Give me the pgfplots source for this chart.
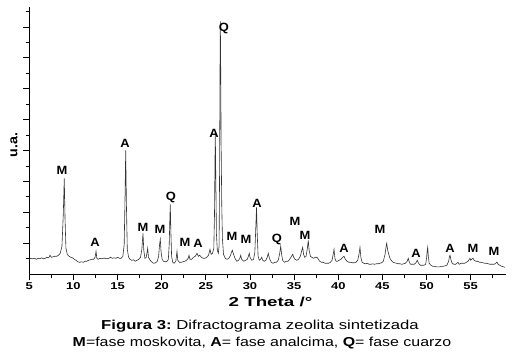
\documentclass[border=0pt]{standalone}
\usepackage{pgfplots}
\pgfplotsset{compat=1.18}
\usepackage{fontspec}
\setmainfont{Liberation Sans}
\begin{document}
\begin{tikzpicture}
\useasboundingbox (0,0) rectangle (514bp,361bp);
\begin{axis}[
  at={(29.3bp,86.7bp)}, anchor=south west,
  scale only axis, width=476.7bp, height=267.3bp,
  xmin=5, xmax=59, ymin=0, ymax=267.3,
  axis x line*=bottom, axis y line*=left,
  axis line style={-, line width=0.9pt, black},
  tick style={line width=0.9pt, black},
  tick align=outside,
  major tick length=6bp, minor tick length=3.3bp,
  xtick={5,10,...,55}, minor xtick={7.5,12.5,...,57.5},
  ytick={31,61.9,92.8,123.7,154.6,185.5,216.4,247.3},
  minor ytick={15.55,46.45,77.35,108.25,139.15,170.05,200.95,231.85,262.75},
  yticklabels={},
  /pgf/number format/assume math mode=true,
  xticklabel style={font=\bfseries\fontsize{10}{11}\selectfont, xscale=1.3, inner sep=1pt, yshift=-1bp},
  clip=false,
]
\addplot[black!80, line width=0.6pt] coordinates {
(5.0,15) (5.2,16) (5.4,15.5) (5.6,16) (5.8,15) (6.0,16) (6.2,15.5) (6.4,16.5) (6.6,15.5) (6.8,16)
(7.0,17) (7.2,16.5) (7.35,19) (7.5,17) (7.7,17.5) (7.9,18) (8.1,18) (8.3,19) (8.5,21) (8.7,28)
(8.85,60) (8.96,96) (9.05,55) (9.15,26) (9.3,20) (9.5,18) (9.7,17) (9.9,16.5) (10.1,15) (10.3,14)
(10.5,12.5) (10.7,12) (10.9,12.5) (11.1,12) (11.3,13) (11.5,13) (11.7,14) (11.9,14.5) (12.1,15) (12.3,15)
(12.45,17) (12.56,23) (12.65,16) (12.8,15) (13.0,16) (13.2,15.5) (13.4,16) (13.6,16) (13.8,15.5) (14.0,16)
(14.2,17) (14.4,16) (14.6,16.5) (14.8,16) (15.0,17) (15.2,16) (15.4,16) (15.6,18) (15.75,30) (15.85,80)
(15.92,124) (16.0,70) (16.1,25) (16.25,17) (16.4,15) (16.6,14) (16.8,14.5) (17.0,13) (17.2,14) (17.4,15)
(17.6,17) (17.75,25) (17.88,41) (17.97,24) (18.1,16) (18.25,17) (18.41,26) (18.5,17) (18.7,14) (18.9,12)
(19.1,11) (19.3,11.5) (19.5,13) (19.65,18) (19.76,30) (19.84,35) (19.93,22) (20.05,15) (20.2,13) (20.4,12.5)
(20.6,13) (20.75,15) (20.85,30) (20.92,55) (20.97,70) (21.03,45) (21.12,18) (21.25,12) (21.4,11) (21.6,13)
(21.73,23) (21.82,14) (22.0,12) (22.2,12) (22.4,12.5) (22.6,13) (22.8,14) (23.0,16) (23.09,19) (23.2,15)
(23.4,15) (23.6,17) (23.8,18) (24.0,21) (24.15,18) (24.3,19) (24.5,17) (24.7,16) (24.9,16) (25.1,17)
(25.3,19) (25.47,25) (25.6,20) (25.75,21) (25.9,26) (25.98,60) (26.03,110) (26.07,142) (26.12,100) (26.2,40)
(26.3,24) (26.41,21) (26.5,28) (26.56,110) (26.6,200) (26.64,253) (26.68,210) (26.73,130) (26.8,70) (26.88,35)
(27.0,20) (27.2,16) (27.4,15) (27.6,16) (27.8,19) (27.9,22) (28.0,24) (28.1,21) (28.3,16) (28.5,13)
(28.7,14) (28.85,16) (28.95,19) (29.05,15) (29.3,13) (29.5,14) (29.7,15) (29.85,19) (29.92,21) (30.0,17)
(30.2,14) (30.4,15) (30.55,22) (30.65,45) (30.74,67) (30.82,40) (30.92,18) (31.05,14) (31.2,15) (31.33,17)
(31.45,14) (31.6,13) (31.8,14) (31.95,17) (32.07,21) (32.2,16) (32.4,12) (32.6,11) (32.8,12) (33.0,12)
(33.2,14) (33.35,20) (33.48,28) (33.58,20) (33.7,14) (33.9,12) (34.1,13) (34.3,13) (34.5,15) (34.7,18)
(34.84,20) (34.95,17) (35.1,15) (35.3,14) (35.5,15) (35.7,18) (35.87,24) (35.97,27) (36.07,20) (36.2,17)
(36.35,18) (36.5,26) (36.6,34) (36.7,24) (36.85,18) (37.0,17) (37.2,16) (37.4,17) (37.59,17) (37.75,15)
(37.9,13) (38.1,12) (38.3,12) (38.5,11) (38.7,11) (38.9,11) (39.1,12) (39.3,14) (39.42,20) (39.52,25)
(39.62,16) (39.75,13) (39.9,13) (40.1,14) (40.3,15) (40.5,17) (40.65,18) (40.8,15) (41.0,13) (41.2,12)
(41.4,12) (41.6,11.5) (41.8,11.5) (42.0,12) (42.2,14) (42.35,20) (42.46,27) (42.56,17) (42.7,12) (42.9,11)
(43.1,10.5) (43.3,11) (43.5,10) (43.7,10) (43.9,10.5) (44.1,10) (44.3,10.5) (44.5,10.5) (44.7,11) (44.9,11.5)
(45.1,13) (45.3,20) (45.42,28) (45.49,31) (45.6,24) (45.72,20) (45.85,16) (46.0,14) (46.2,12) (46.4,11.5)
(46.6,11) (46.8,10.5) (47.0,10.5) (47.2,10) (47.4,10.5) (47.6,11) (47.8,13) (47.93,16) (48.05,12) (48.2,10)
(48.4,10) (48.6,10) (48.8,11.5) (48.95,14) (49.1,11) (49.3,9) (49.5,9) (49.7,9) (49.9,10) (50.0,16)
(50.08,24) (50.13,27) (50.2,18) (50.3,11) (50.5,9) (50.7,8) (50.9,8) (51.1,7.5) (51.3,7.5) (51.5,7.5)
(51.7,8) (51.9,8) (52.1,8.5) (52.3,9) (52.5,13) (52.6,18) (52.66,19) (52.75,15) (52.9,11) (53.1,10)
(53.3,10) (53.45,11) (53.56,12) (53.7,10) (53.9,11) (54.1,11) (54.3,11) (54.5,12) (54.7,13) (54.85,15)
(54.92,16) (55.0,14) (55.1,15) (55.26,16) (55.4,14) (55.6,13) (55.8,13) (56.0,12) (56.2,12) (56.4,11.5)
(56.6,11) (56.8,11) (57.0,10.5) (57.2,10) (57.4,10) (57.6,10) (57.8,10.5) (57.93,12) (58.0,12) (58.1,10)
(58.3,9) (58.5,8) (58.7,7.5) (58.87,7)
};
\begin{scope}[every node/.style={font=\bfseries\fontsize{12}{13}\selectfont, xscale=1.08, inner sep=0pt}]
\node at (axis cs:8.71,104) {M};
\node at (axis cs:12.45,32) {A};
\node at (axis cs:15.85,131) {A};
\node at (axis cs:17.88,47) {M};
\node at (axis cs:19.8,45) {M};
\node at (axis cs:21.05,77) {Q};
\node at (axis cs:22.64,32) {M};
\node at (axis cs:24.11,31) {A};
\node at (axis cs:25.92,141) {A};
\node at (axis cs:27.05,246) {Q};
\node at (axis cs:27.96,38) {M};
\node at (axis cs:29.55,35) {M};
\node at (axis cs:30.8,71) {A};
\node at (axis cs:33.06,35) {Q};
\node at (axis cs:35.1,53) {M};
\node at (axis cs:36.23,39) {M};
\node at (axis cs:40.65,26) {A};
\node at (axis cs:44.73,45) {M};
\node at (axis cs:48.81,21) {A};
\node at (axis cs:52.66,26) {A};
\node at (axis cs:55.27,26) {M};
\node at (axis cs:57.65,23) {M};
\end{scope}
\end{axis}
\node[rotate=90, font=\bfseries\fontsize{13}{14}\selectfont, xscale=1.1, inner sep=0pt] at (14bp,216bp) {u.a.};
\node[font=\bfseries\fontsize{13}{14}\selectfont, xscale=1.45, inner sep=0pt] at (270.5bp,59bp) {2 Theta /°};
\node[font=\fontsize{13}{14}\selectfont, xscale=1.29, inner sep=0pt] at (260bp,35bp) {\textbf{Figura 3:}~Difractograma zeolita sintetizada};
\node[font=\fontsize{13}{14}\selectfont, xscale=1.23, inner sep=0pt] at (262bp,18.3bp) {\textbf{M}=fase moskovita, \textbf{A}= fase analcima, \textbf{Q}= fase cuarzo};
\end{tikzpicture}
\end{document}
